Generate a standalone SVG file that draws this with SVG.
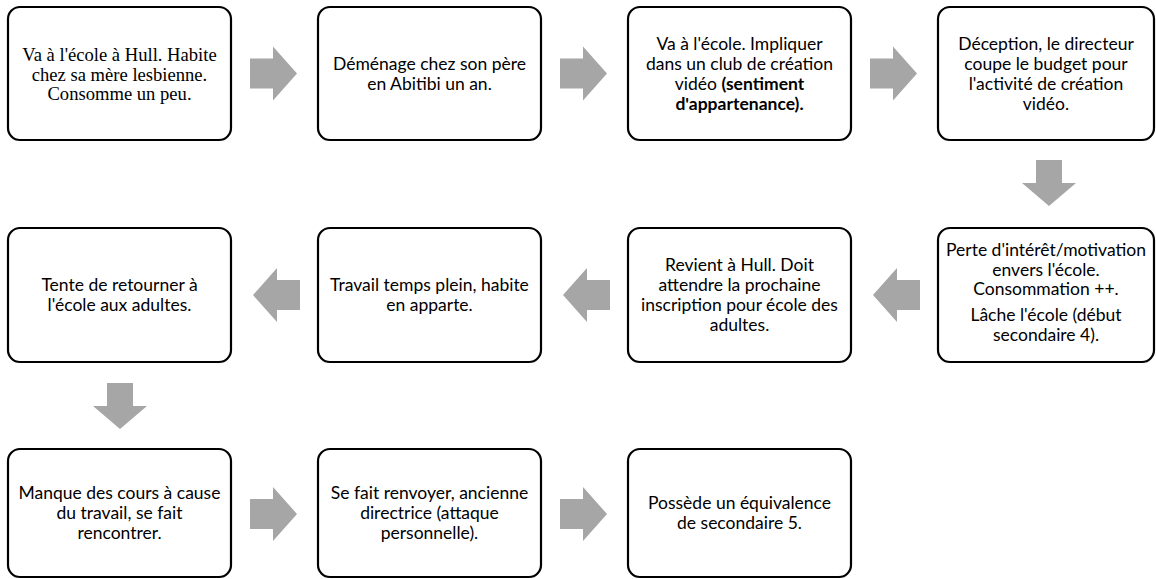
<svg xmlns="http://www.w3.org/2000/svg" xmlns:xlink="http://www.w3.org/1999/xlink" width="1156" height="579" viewBox="0 0 1156 579">
<style>
.box{fill:#fff;stroke:#000;stroke-width:2.2}
.t{font-family:Lato,"Noto Sans",sans-serif;font-size:17.5px;fill:#000;text-anchor:middle}
.s{font-family:"Liberation Serif","Times New Roman",serif;font-size:18.6px;fill:#000;text-anchor:middle}
.b{font-weight:bold}
.arr{fill:#a6a6a6}
</style>
<defs>
<path id="aR" d="M0,-15 H23 V-27 L47,0 L23,27 V15 H0 Z"/>
<path id="aL" d="M0,0 L24,-27 V-15 H47 V15 H24 V27 Z"/>
<path id="aD" d="M-13,0 H13 V23 H27 L0,46 L-27,23 H-13 Z"/>
</defs>
<rect width="1156" height="579" fill="#fff"/>
<g id="connectors" class="arr">
<use xlink:href="#aR" x="250" y="73.5"/>
<use xlink:href="#aR" x="560" y="73.5"/>
<use xlink:href="#aR" x="870" y="73.5"/>
<use xlink:href="#aD" x="1049" y="160"/>
<use xlink:href="#aL" x="873" y="295"/>
<use xlink:href="#aL" x="563" y="295"/>
<use xlink:href="#aL" x="253" y="295"/>
<use xlink:href="#aD" x="120" y="383"/>
<use xlink:href="#aR" x="250" y="514"/>
<use xlink:href="#aR" x="560" y="514"/>
</g>
<g id="n1"><rect class="box" x="8" y="7" width="223" height="133" rx="12"/>
<text class="s"><tspan x="119.5" y="61">Va à l'école à Hull. Habite</tspan><tspan x="119.5" y="80.5">chez sa mère lesbienne.</tspan><tspan x="119.5" y="100">Consomme un peu.</tspan></text></g>
<g id="n2"><rect class="box" x="318" y="7" width="223" height="133" rx="12"/>
<text class="t"><tspan x="429.5" y="70">Déménage chez son père</tspan><tspan x="429.5" y="90">en Abitibi un an.</tspan></text></g>
<g id="n3"><rect class="box" x="628" y="7" width="223" height="133" rx="12"/>
<text class="t"><tspan x="739.5" y="49.5">Va à l'école. Impliquer</tspan><tspan x="739.5" y="69.5">dans un club de création</tspan><tspan x="739.5" y="89.5">vidéo <tspan class="b">(sentiment</tspan></tspan><tspan x="739.5" y="109.5" class="b">d'appartenance).</tspan></text></g>
<g id="n4"><rect class="box" x="938" y="7" width="216" height="133" rx="12"/>
<text class="t"><tspan x="1046" y="49.5">Déception, le directeur</tspan><tspan x="1046" y="69.5">coupe le budget pour</tspan><tspan x="1046" y="89.5">l'activité de création</tspan><tspan x="1046" y="109.5">vidéo.</tspan></text></g>
<g id="n5"><rect class="box" x="938" y="228" width="216" height="134" rx="12"/>
<text class="t"><tspan x="1046" y="256">Perte d'intérêt/motivation</tspan><tspan x="1046" y="275.5">envers l'école.</tspan><tspan x="1046" y="295">Consommation ++.</tspan><tspan x="1046" y="321">Lâche l'école (début</tspan><tspan x="1046" y="340.5">secondaire 4).</tspan></text></g>
<g id="n6"><rect class="box" x="628" y="228" width="223" height="134" rx="12"/>
<text class="t"><tspan x="739.5" y="271">Revient à Hull. Doit</tspan><tspan x="739.5" y="291">attendre la prochaine</tspan><tspan x="739.5" y="311">inscription pour école des</tspan><tspan x="739.5" y="331">adultes.</tspan></text></g>
<g id="n7"><rect class="box" x="318" y="228" width="223" height="134" rx="12"/>
<text class="t"><tspan x="429.5" y="291">Travail temps plein, habite</tspan><tspan x="429.5" y="311">en apparte.</tspan></text></g>
<g id="n8"><rect class="box" x="8" y="228" width="223" height="134" rx="12"/>
<text class="t"><tspan x="119.5" y="291">Tente de retourner à</tspan><tspan x="119.5" y="311">l'école aux adultes.</tspan></text></g>
<g id="n9"><rect class="box" x="8" y="449" width="223" height="128" rx="12"/>
<text class="t"><tspan x="119.5" y="499">Manque des cours à cause</tspan><tspan x="119.5" y="519">du travail, se fait</tspan><tspan x="119.5" y="539">rencontrer.</tspan></text></g>
<g id="n10"><rect class="box" x="318" y="449" width="223" height="128" rx="12"/>
<text class="t"><tspan x="429.5" y="499">Se fait renvoyer, ancienne</tspan><tspan x="429.5" y="519">directrice (attaque</tspan><tspan x="429.5" y="539">personnelle).</tspan></text></g>
<g id="n11"><rect class="box" x="628" y="449" width="223" height="128" rx="12"/>
<text class="t"><tspan x="739.5" y="509">Possède un équivalence</tspan><tspan x="739.5" y="529">de secondaire 5.</tspan></text></g>
</svg>
